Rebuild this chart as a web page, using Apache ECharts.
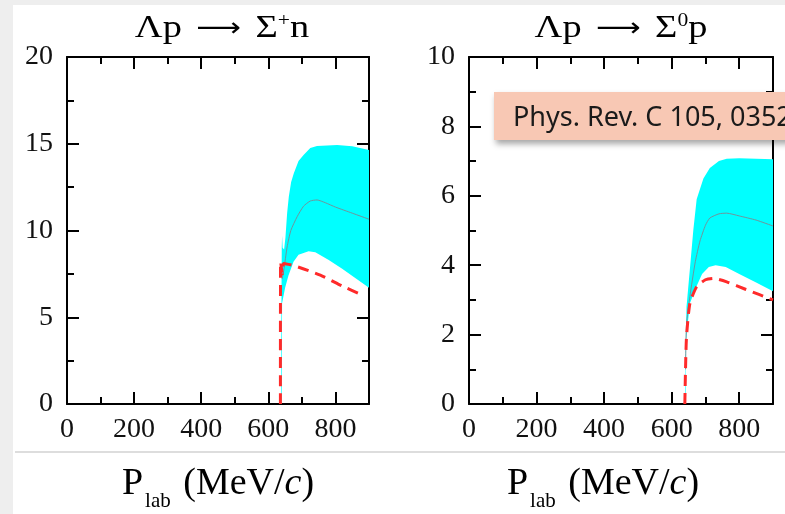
<!DOCTYPE html>
<html>
<head>
<meta charset="utf-8">
<script src="https://cdn.jsdelivr.net/npm/echarts@6/dist/echarts.min.js"></script>
<style>
html, body { margin: 0; padding: 0; background: #eeeeee; }
#chart { width: 785px; height: 514px; }
</style>
</head>
<body>
<div id="chart"></div>
<script>
// shared x axis: P_lab (MeV/c)
const xMax = 900
const xMajorTicks = [0, 200, 400, 600, 800]
const xMinorTicks = [0, 100, 200, 300, 400, 500, 600, 700, 800]

// y ticks of each panel
const yTicksPlus = [0, 5, 10, 15, 20]
const yMinorPlus = [0, 2.5, 5, 7.5, 10, 12.5, 15, 17.5, 20]
const yTicksZero = [0, 2, 4, 6, 8, 10]
const yMinorZero = [0, 1, 2, 3, 4, 5, 6, 7, 8, 9, 10]

// Λp → Σ+n : cyan band edges, central curve, red dashed curve
const plusBandUpper = [[637.5, 0], [640, 9.0], [641, 9.7], [642.5, 9.0], [647, 8.9], [651, 9.6], [656, 11.0], [661, 11.95], [668, 12.8], [676, 13.3], [690, 14.0], [705, 14.35], [725, 14.75], [745, 14.87], [805, 14.93], [850, 14.85], [900, 14.64]]
const plusBandLower = [[639.5, 0], [641, 5.8], [650, 6.7], [660, 7.4], [675, 8.2], [690, 8.6], [720, 8.8], [740, 8.75], [780, 8.3], [820, 7.8], [860, 7.25], [900, 6.7]]
const plusCenter = [[641, 7.2], [646, 7.7], [656, 9.05], [667, 10.0], [686, 10.8], [705, 11.4], [725, 11.7], [745, 11.76], [770, 11.6], [800, 11.35], [850, 11.0], [900, 10.65]]
const plusDashed = [[636, 0], [636.5, 8.2], [642, 7.5], [646, 8.1], [680, 7.95], [755, 7.43], [820, 6.8], [880, 6.28]]

// Λp → Σ0p
const zeroBandUpper = [[639, 0], [641, 1.5], [644, 2.8], [654, 3.9], [664, 5.0], [674, 5.9], [694, 6.5], [713, 6.8], [740, 7.0], [763, 7.07], [800, 7.08], [850, 7.07], [900, 7.05]]
const zeroBandLower = [[641, 0], [642, 1.8], [654, 2.9], [674, 3.4], [690, 3.75], [710, 3.95], [730, 4.0], [760, 3.95], [800, 3.75], [850, 3.5], [900, 3.25]]
const zeroCenter = [[641, 1.0], [644, 2.3], [654, 3.1], [670, 4.1], [684, 4.7], [700, 5.15], [713, 5.36], [740, 5.48], [763, 5.5], [800, 5.42], [850, 5.3], [900, 5.13]]
const zeroDashed = [[639, 0], [641, 1.0], [644, 1.94], [654, 2.9], [674, 3.38], [700, 3.58], [723, 3.62], [763, 3.52], [820, 3.3], [900, 3.0]]

const serif = "'Liberation Serif', 'DejaVu Serif', serif"
const black = { color: '#000', width: 2 }

function makeAxes(dim, gridIndex, max, major, minor) {
	const sides = dim === 'x' ? ['bottom', 'top'] : ['left', 'right']
	const axes = []
	sides.forEach((side, s) => {
		[major, minor].forEach((ticks, m) => {
			axes.push({
				gridIndex: gridIndex,
				type: 'value',
				position: side,
				min: 0,
				max: max,
				interval: ticks[1] - ticks[0],
				splitLine: { show: false },
				axisLine: { show: m === 0, onZero: false, lineStyle: black },
				axisTick: { show: true, inside: true, length: m === 0 ? 12 : 7, lineStyle: black },
				axisLabel: {
					show: s === 0 && m === 0,
					showMaxLabel: dim === 'y',
					margin: dim === 'x' ? 12 : 14,
					color: '#111',
					fontFamily: serif,
					fontSize: 28
				}
			})
		})
	})
	return axes
}

function bandSeries(axisIndex, upper, lower) {
	const outline = upper.concat(lower.slice().reverse())
	return {
		type: 'custom',
		xAxisIndex: axisIndex,
		yAxisIndex: axisIndex,
		data: [0],
		silent: true,
		z: 1,
		renderItem: function (params, api) {
			return {
				type: 'polygon',
				shape: { points: outline.map(p => api.coord(p)) },
				style: { fill: '#00ffff' }
			}
		}
	}
}

function lineSeries(axisIndex, data, style) {
	return {
		type: 'line',
		xAxisIndex: axisIndex,
		yAxisIndex: axisIndex,
		data: data,
		showSymbol: false,
		smooth: 0.2,
		silent: true,
		z: 3,
		lineStyle: style
	}
}

const centerStyle = { color: '#6f959c', width: 1 }
const dashedStyle = { color: '#ff2a2a', width: 3, type: [11, 7] }

function titleText(x, sup, tail) {
	return {
		type: 'text',
		x: x,
		y: 29,
		scaleX: 1.2,
		z: 10,
		style: {
			text: '{a|Λp }{r|⟶}{a| Σ}{s|' + sup + '}{a|' + tail + '}',
			textAlign: 'center',
			textVerticalAlign: 'middle',
			rich: {
				a: { fontFamily: serif, fontSize: 32, lineHeight: 34, color: '#111' },
				r: { fontFamily: "'DejaVu Sans', sans-serif", fontSize: 26, lineHeight: 34, padding: [0, 4, 0, 4], color: '#111' },
				s: { fontFamily: serif, fontSize: 18, lineHeight: 18, verticalAlign: 'top', color: '#111' }
			}
		}
	}
}

function nameText(x) {
	return {
		type: 'text',
		x: x,
		y: 484,
		z: 10,
		style: {
			text: '{a|P}{s|lab}{a| (MeV/}{i|c}{a|)}',
			textAlign: 'center',
			textVerticalAlign: 'middle',
			rich: {
				a: { fontFamily: serif, fontSize: 38, lineHeight: 56, color: '#111' },
				s: { fontFamily: serif, fontSize: 21, lineHeight: 21, verticalAlign: 'bottom', padding: [0, 3, 0, 2], color: '#111' },
				i: { fontFamily: serif, fontSize: 38, lineHeight: 56, fontStyle: 'italic', color: '#111' }
			}
		}
	}
}

const chart = echarts.init(document.getElementById('chart'))
chart.setOption({
	animation: false,
	backgroundColor: '#eeeeee',
	grid: [
		{ left: 67, top: 57, width: 302, height: 347, outerBoundsMode: 'none' },
		{ left: 469, top: 57, width: 304, height: 347, outerBoundsMode: 'none' }
	],
	xAxis: makeAxes('x', 0, xMax, xMajorTicks, xMinorTicks).concat(makeAxes('x', 1, xMax, xMajorTicks, xMinorTicks)),
	yAxis: makeAxes('y', 0, 20, yTicksPlus, yMinorPlus).concat(makeAxes('y', 1, 10, yTicksZero, yMinorZero)),
	series: [
		bandSeries(0, plusBandUpper, plusBandLower),
		lineSeries(0, plusCenter, centerStyle),
		lineSeries(0, plusDashed, dashedStyle),
		bandSeries(4, zeroBandUpper, zeroBandLower),
		lineSeries(4, zeroCenter, centerStyle),
		lineSeries(4, zeroDashed, dashedStyle)
	],
	graphic: [
		// slide background: white card with a faint rule under the plots
		{ type: 'rect', z: -100, shape: { x: 13, y: 5, width: 772, height: 509 }, style: { fill: '#ffffff' } },
		{ type: 'rect', z: -99, shape: { x: 15, y: 451, width: 770, height: 2 }, style: { fill: '#dddddd' } },
		titleText(222, '+', 'n'),
		titleText(621, '0', 'p'),
		nameText(218),
		nameText(603),
		{
			type: 'rect', z: 100,
			shape: { x: 494, y: 92, width: 300, height: 48 },
			style: { fill: '#f8c8b4', shadowColor: 'rgba(0,0,0,0.35)', shadowBlur: 6, shadowOffsetX: 2, shadowOffsetY: 4 }
		},
		{
			type: 'text', z: 101, x: 513, y: 118,
			style: { text: 'Phys. Rev. C 105, 035204', fill: '#1a1a1a', font: "27px 'Noto Sans', sans-serif", textVerticalAlign: 'middle' }
		}
	]
})
</script>
</body>
</html>
